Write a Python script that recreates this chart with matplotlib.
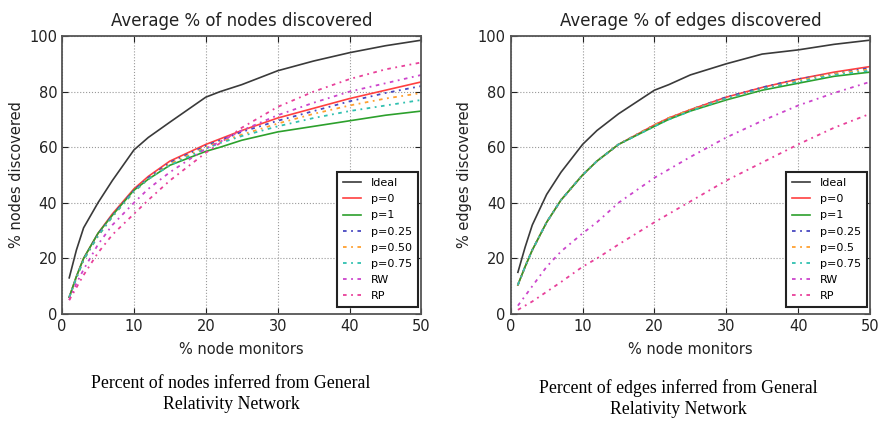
import matplotlib
matplotlib.use("Agg")
import matplotlib.pyplot as plt

# --- data ---
x = [1, 2, 3, 5, 7, 10, 12, 15, 20, 22, 25, 30, 35, 40, 45, 50]

labels = ["Ideal", "p=0", "p=1", "p=0.25", "p=0.50", "p=0.75", "RW", "RP"]
labels_edges = ["Ideal", "p=0", "p=1", "p=0.25", "p=0.5", "p=0.75", "RW", "RP"]

nodes_ideal = [13, 23, 31, 40, 48, 59, 63.5, 69, 78, 80, 82.5, 87.5, 91, 94, 96.5, 98.5]
nodes_p0 = [6, 13.5, 20, 29, 36, 45, 49.5, 55, 61, 63, 66, 70.5, 74, 77.5, 80.5, 83.5]
nodes_p1 = [6, 13.5, 20, 29, 35.5, 44.5, 48.5, 53.5, 58.5, 60, 62.5, 65.5, 67.5, 69.5, 71.5, 73]
nodes_p025 = [6, 13, 19.5, 28.5, 35.5, 44.5, 49, 54.5, 60.5, 62.5, 65.5, 69.5, 73, 76.5, 79.5, 82]
nodes_p050 = [6, 13, 19.5, 28, 35, 44, 48.5, 54, 60, 62, 64.5, 68.5, 72, 75, 77.5, 79.5]
nodes_p075 = [6, 13, 19.5, 28, 35, 44, 48.5, 53.5, 59.5, 61.5, 64, 67.5, 70.5, 73, 75, 77]
nodes_rw = [5, 11, 16, 25, 32, 40, 45, 51, 59.5, 62, 66, 71.5, 76, 80, 83, 86]
nodes_rp = [5, 9.5, 14, 22, 28.5, 36, 41, 48, 58, 61.5, 67, 74.5, 80, 84.5, 88, 90.5]

edges_ideal = [15, 24, 32, 43, 51, 61, 66, 72, 80.5, 82.5, 86, 90, 93.5, 95, 97, 98.5]
edges_p0 = [10.5, 17, 23, 33, 41, 50, 55, 61, 68, 70.5, 73.5, 78, 81.5, 84.5, 87, 89]
edges_p1 = [10.5, 17, 23, 33, 41, 50, 55, 61, 67.5, 70, 73, 77, 80.5, 83, 85.5, 87]
edges_p025 = [10.5, 17, 23, 33, 41, 50, 55, 61, 68, 70.5, 73.5, 78, 81.5, 84.5, 86.5, 88.5]
edges_p05 = [10.5, 17, 23, 33, 41, 50, 55, 61, 68, 70.5, 73.5, 77.5, 81, 84, 86.5, 88]
edges_p075 = [10.5, 17, 23, 33, 41, 50, 55, 61, 67.5, 70, 73, 77.5, 81, 83.5, 86, 87.5]
edges_rw = [3, 6.5, 10, 17, 22.5, 29, 33, 40, 49, 52, 56.5, 63.5, 69.5, 75, 79.5, 83.5]
edges_rp = [1.5, 3, 4.5, 8, 11.5, 17, 20, 25, 33, 36, 40.5, 48, 54.5, 61, 67, 72]

colors = ["#3a3a3a", "#ff4040", "#2ca02c", "#4848c0", "#ffa030", "#30c0b0", "#cc44cc", "#e8409a"]
DASHDOT = (0, (2, 2.5, 1, 2.5))
styles = ["-", "-", "-", DASHDOT, DASHDOT, DASHDOT, DASHDOT, DASHDOT]

fig = plt.figure(figsize=(8.81, 4.22), dpi=100)
ax1 = fig.add_axes([0.0704, 0.2559, 0.4080, 0.6588])
ax2 = fig.add_axes([0.5797, 0.2559, 0.4078, 0.6588])

panels = [
    (ax1, [nodes_ideal, nodes_p0, nodes_p1, nodes_p025, nodes_p050, nodes_p075, nodes_rw, nodes_rp],
     labels, "Average % of nodes discovered", "% nodes discovered"),
    (ax2, [edges_ideal, edges_p0, edges_p1, edges_p025, edges_p05, edges_p075, edges_rw, edges_rp],
     labels_edges, "Average % of edges discovered", "% edges discovered"),
]

for ax, series, labs, title, ylab in panels:
    for ys, lab, c, ls in zip(series, labs, colors, styles):
        lw = 1.2 if ls == "-" else 1.3
        ax.plot(x, ys, color=c, linestyle=ls, linewidth=lw, label=lab)
    ax.set_xlim(0, 50)
    ax.set_ylim(0, 100)
    ax.set_xticks(range(0, 51, 10))
    ax.set_yticks(range(0, 101, 20))
    ax.grid(True, linestyle=":", color="#999999", linewidth=0.8)
    ax.tick_params(direction="in", top=True, right=True, labelsize=10.5, colors="#222222", length=4)
    for sp in ax.spines.values():
        sp.set_color("#555555")
        sp.set_linewidth(1.3)
    ax.set_title(title, fontsize=12, color="#222222", pad=7)
    ax.set_xlabel("% node monitors", fontsize=10.5, color="#222222", labelpad=6)
    ax.set_ylabel(ylab, fontsize=10.5, color="#222222", labelpad=4)
    leg = ax.legend(loc="lower right", fontsize=8, fancybox=False, framealpha=1,
                    labelspacing=0.55, handlelength=1.6, handletextpad=0.9, borderpad=0.55,
                    bbox_to_anchor=(1.007, 0.005))
    leg.get_frame().set_edgecolor("#222222")
    leg.get_frame().set_linewidth(1.5)

fig.text(231 / 881, 1 - 394 / 422, "Percent of nodes inferred from General\nRelativity Network",
         ha="center", va="center", family="Liberation Serif", fontsize=12.8, linespacing=1.3)
fig.text(678 / 881, 1 - 399 / 422, "Percent of edges inferred from General\nRelativity Network",
         ha="center", va="center", family="Liberation Serif", fontsize=12.8, linespacing=1.3)

fig.savefig("out.png", dpi=100)
